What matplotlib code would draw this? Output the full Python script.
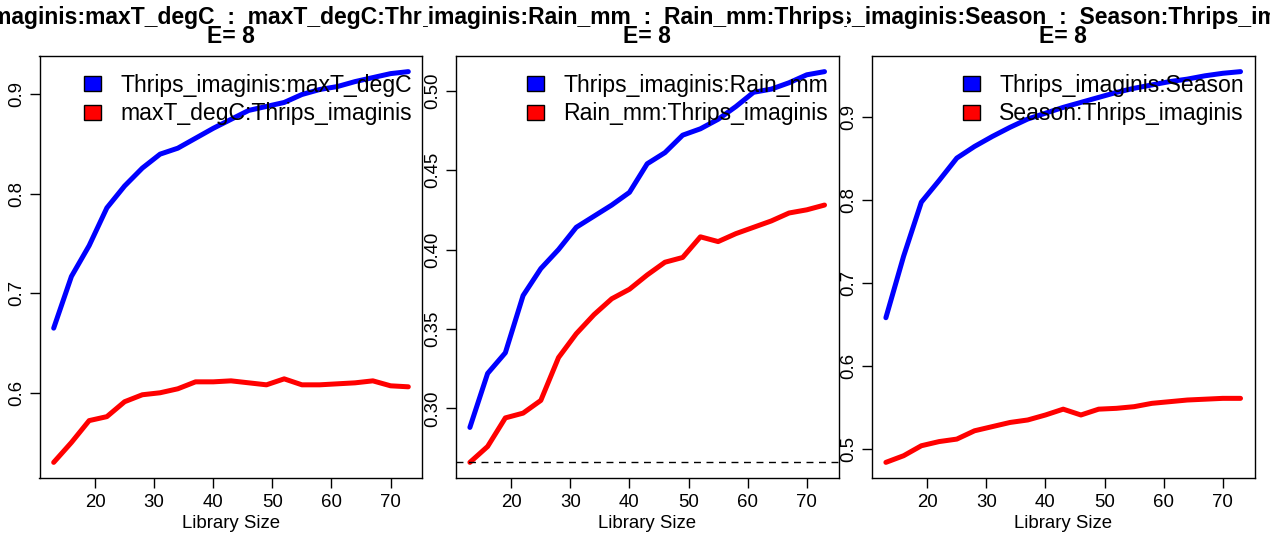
import matplotlib
matplotlib.use("Agg")
import matplotlib.pyplot as plt
from matplotlib.patches import Patch
from matplotlib.transforms import Bbox, TransformedBbox

plt.rcParams["font.family"] = ["Liberation Sans", "DejaVu Sans"]

# library sizes (x) shared by all three panels
lib_sizes = [13, 16, 19, 22, 25, 28, 31, 34, 37, 40, 43, 46, 49, 52, 55, 58, 61, 64, 67, 70, 73]

# panel 1: Thrips_imaginis <-> maxT_degC
maxT_fwd = [0.665, 0.717, 0.748, 0.786, 0.808, 0.826, 0.840, 0.846, 0.856, 0.866, 0.875,
            0.884, 0.888, 0.892, 0.900, 0.905, 0.908, 0.913, 0.917, 0.921, 0.923]
maxT_rev = [0.530, 0.550, 0.572, 0.576, 0.591, 0.598, 0.600, 0.604, 0.611, 0.611, 0.612,
            0.610, 0.608, 0.614, 0.608, 0.608, 0.609, 0.610, 0.612, 0.607, 0.606]

# panel 2: Thrips_imaginis <-> Rain_mm
rain_fwd = [0.288, 0.322, 0.335, 0.371, 0.388, 0.400, 0.414, 0.421, 0.428, 0.436, 0.454,
            0.461, 0.472, 0.476, 0.482, 0.490, 0.499, 0.501, 0.505, 0.510, 0.512]
rain_rev = [0.266, 0.276, 0.294, 0.297, 0.305, 0.332, 0.347, 0.359, 0.369, 0.375, 0.384,
            0.392, 0.395, 0.408, 0.405, 0.410, 0.414, 0.418, 0.423, 0.425, 0.428]

# panel 3: Thrips_imaginis <-> Season
season_fwd = [0.658, 0.732, 0.797, 0.823, 0.850, 0.864, 0.876, 0.887, 0.897, 0.904, 0.911,
              0.917, 0.923, 0.929, 0.934, 0.938, 0.942, 0.945, 0.949, 0.952, 0.954]
season_rev = [0.484, 0.492, 0.504, 0.509, 0.512, 0.522, 0.527, 0.532, 0.535, 0.541, 0.548,
              0.541, 0.548, 0.549, 0.551, 0.555, 0.557, 0.559, 0.560, 0.561, 0.561]

targets = ["maxT_degC", "Rain_mm", "Season"]
species = "Thrips_imaginis"
embed_dim = 8
ref_lines = [None, 0.266, None]   # dashed reference, only visible in the middle panel

x_ticks = [20, 30, 40, 50, 60, 70]
y_ticks = [[0.6, 0.7, 0.8, 0.9],
           [0.30, 0.35, 0.40, 0.45, 0.50],
           [0.5, 0.6, 0.7, 0.8, 0.9]]
y_fmt = ["{:.1f}", "{:.2f}", "{:.1f}"]

series = [(maxT_fwd, maxT_rev), (rain_fwd, rain_rev), (season_fwd, season_rev)]

W, H = 1270, 534
fig = plt.figure(figsize=(W / 100, H / 100), dpi=100)

lefts = [39.5, 455.7, 871.7]
ax_w, ax_top, ax_bot = 383.0, 56.0, 478.0
axis_fs = 13.4
title_fs = 16.5

for i, target in enumerate(targets):
    fwd, rev = series[i]
    ax = fig.add_axes([lefts[i] / W, 1 - ax_bot / H, ax_w / W, (ax_bot - ax_top) / H])
    ax.plot(lib_sizes, fwd, color="#0000ff", lw=3.6, solid_capstyle="round", solid_joinstyle="round")
    ax.plot(lib_sizes, rev, color="#ff0000", lw=3.6, solid_capstyle="round", solid_joinstyle="round")
    ax.margins(x=0.04, y=0.04)
    if ref_lines[i] is not None:
        ax.axhline(ref_lines[i], color="black", lw=1.0, ls=(0, (5, 4)))

    ax.set_xticks(x_ticks)
    ax.set_yticks(y_ticks[i])
    ax.set_yticklabels([y_fmt[i].format(v) for v in y_ticks[i]])
    ax.tick_params(direction="out", length=7.2, width=1.0, labelsize=axis_fs, colors="black")
    ax.tick_params(axis="x", pad=4)
    ax.tick_params(axis="y", pad=3, labelrotation=90)
    for lab in ax.get_yticklabels():
        lab.set_verticalalignment("center")
    for sp in ax.spines.values():
        sp.set_linewidth(1.0)
    ax.set_xlabel("Library Size", fontsize=axis_fs, labelpad=3)

    handles = [Patch(facecolor="#0000ff", edgecolor="black", lw=1.0),
               Patch(facecolor="#ff0000", edgecolor="black", lw=1.0)]
    labels = [f"{species}:{target}", f"{target}:{species}"]
    ax.legend(handles, labels, loc="upper right", bbox_to_anchor=(0.972, 0.958),
              frameon=False, fontsize=16.6, handlelength=0.75, handleheight=0.58,
              handletextpad=0.83, labelspacing=0.25, borderpad=0, borderaxespad=0)

    # two-line bold title, first line clipped to this panel's third of the figure
    cx = (lefts[i] + ax_w / 2) / W
    t = fig.text(cx, 1 - 24 / H, f"{species}:{target}  :  {target}:{species}",
                 ha="center", va="baseline", fontsize=title_fs, fontweight="bold")
    t.set_clip_box(TransformedBbox(Bbox([[i / 3, 0], [(i + 1) / 3, 1]]), fig.transFigure))
    t.set_clip_on(True)
    fig.text(cx, 1 - 43 / H, f"E= {embed_dim}", ha="center", va="baseline",
             fontsize=title_fs, fontweight="bold")

fig.savefig("out.png", dpi=100)
